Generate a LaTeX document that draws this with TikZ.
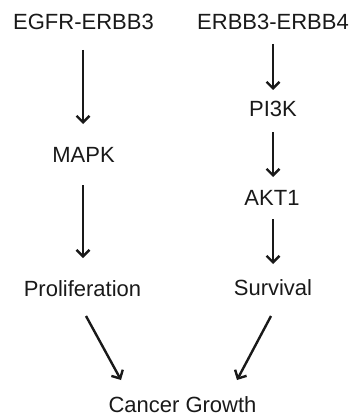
\documentclass[tikz,border=0pt]{standalone}
\usepackage{fontspec}
\setmainfont{Liberation Sans}
\usetikzlibrary{arrows.meta}
\definecolor{ink}{gray}{0.1}
\begin{document}
\begin{tikzpicture}[x=1pt,y=-1pt,
  lbl/.style={inner sep=0pt,outer sep=0pt,text height=16pt,text depth=5pt,anchor=base,font=\fontsize{22}{26}\selectfont,text=ink},
  arr/.style={draw=ink,line width=2.4pt,-{Straight Barb[length=6.5pt,width=13pt]}}]
\useasboundingbox (0,0) rectangle (350,417);
\node[lbl] (egfr) at (83.5,29.5) {EGFR-ERBB3};
\node[lbl] (erbb) at (273,29.5) {ERBB3-ERBB4};
\node[lbl] (mapk) at (83.5,162) {MAPK};
\node[lbl] (pi3k) at (273,117) {PI3K};
\node[lbl] (akt) at (272,205) {AKT1};
\node[lbl] (prolif) at (82.5,296) {Proliferation};
\node[lbl] (surv) at (273,295) {Survival};
\node[lbl] (cancer) at (182.5,412) {Cancer Growth};
\draw[arr] ([xshift=-0.5pt,yshift=-15.5pt]egfr.south) -- ([xshift=-0.5pt,yshift=22pt]mapk.north);
\draw[arr] ([xshift=-0.5pt,yshift=-18pt]mapk.south) -- ([xshift=0.5pt,yshift=22pt]prolif.north);
\draw[arr] ([yshift=-9.5pt]erbb.south) -- ([yshift=11pt]pi3k.north);
\draw[arr] ([yshift=-10pt]pi3k.south) -- ([xshift=1pt,yshift=12pt]akt.north);
\draw[arr] ([xshift=1pt,yshift=-9pt]akt.south) -- ([yshift=15pt]surv.north);
\draw[arr] ([xshift=3.5pt,yshift=-15pt]prolif.south) -- ([xshift=-61.5pt,yshift=16pt]cancer.north);
\draw[arr] ([xshift=-2pt,yshift=-16pt]surv.south) -- ([xshift=54.5pt,yshift=16pt]cancer.north);
\end{tikzpicture}
\end{document}
